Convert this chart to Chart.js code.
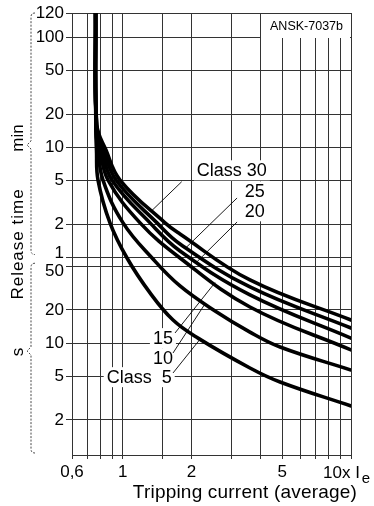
<!DOCTYPE html>
<html><head><meta charset="utf-8">
<script src="https://cdn.jsdelivr.net/npm/chart.js@4/dist/chart.umd.min.js"></script>
<style>html,body{margin:0;padding:0;background:#fff;}#wrap{width:374px;height:506px;}</style>
</head><body><div id="wrap"><canvas id="c" width="374" height="506"></canvas></div>
<script>
// ---- data: tripping current (x Ie) and release time (s) ----
const current5  = [0.761, 0.763, 0.768, 0.780, 0.880, 1.045, 1.318, 1.662, 2.138, 3.61, 4.89, 10];
const time5     = [10050, 867, 570, 304, 124, 59.4, 28.6, 16.2, 11.1, 5.94, 4.43, 2.68];
const current10 = [0.761, 0.764, 0.780, 0.820, 1.004, 1.358, 1.783, 2.539, 3.61, 4.89, 10];
const time10    = [10050, 905, 570, 304, 124, 58.2, 33.1, 19.6, 12.6, 9.22, 5.69];
const current15 = [0.761, 0.766, 0.796, 0.863, 1.192, 1.783, 3.61, 10];
const time15    = [10050, 943, 570, 304, 124, 59.4, 21.3, 8.66];
const current20 = [0.761, 0.767, 0.812, 0.898, 1.318, 1.783, 3.61, 10];
const time20    = [10050, 963, 570, 304, 124, 68.8, 27.4, 11.1];
const current25 = [0.761, 0.769, 0.828, 0.935, 1.414, 1.783, 3.61, 10];
const time25    = [10050, 963, 570, 304, 124, 79.7, 32.4, 13.7];
const current30 = [0.761, 0.771, 0.845, 0.974, 1.533, 1.783, 3.61, 10];
const time30    = [10050, 963, 570, 304, 124, 98.2, 37.5, 16.2];
const classNames = ['Class 5', 'Class 10', 'Class 15', 'Class 20', 'Class 25', 'Class 30'];

const xTickValues = [0.6, 0.7, 0.8, 0.9, 1, 1.5, 2, 3, 4, 5, 6, 7, 8, 9, 10];
const xTickLabels = ['0,6', '', '', '', '1', '', '2', '', '', '5', '', '', '', '', ''];
const yTickValues = [10050, 6000, 3000, 1200, 600, 300, 120, 60, 50, 20, 10, 5, 2];
const yTickLabels = ['120', '100', '50', '20', '10', '5', '2', '1', '50', '20', '10', '5', '2'];

const F = "'Liberation Sans', Arial, Helvetica, sans-serif";
Chart.defaults.font.family = F;
Chart.defaults.color = '#000';

const curX = [current5, current10, current15, current20, current25, current30];
const curT = [time5, time10, time15, time20, time25, time30];
const datasets = curX.map((xs, k) => ({
  label: classNames[k],
  data: xs.map((x, i) => ({x: x, y: curT[k][i]})),
  borderColor: '#000', borderWidth: 3.6, pointRadius: 0, fill: false,
  tension: 0.4, borderJoinStyle: 'round', borderCapStyle: 'round'
}));

function onCurve(k, I) {
  const xs = curX[k], ts = curT[k];
  for (let i = 1; i < xs.length; i++) {
    if (I <= xs[i]) {
      const a = Math.log(xs[i-1]), b = Math.log(xs[i]);
      const f = (Math.log(I) - a) / (b - a);
      return Math.exp(Math.log(ts[i-1]) + f * (Math.log(ts[i]) - Math.log(ts[i-1])));
    }
  }
  return ts[ts.length - 1];
}

const annot = {
  id: 'annot',
  beforeDatasetsDraw(chart) {
    const {ctx, chartArea: ca, scales: {x, y}} = chart;
    const px = v => x.getPixelForValue(v), py = v => y.getPixelForValue(v);
    ctx.save();
    ctx.fillStyle = '#fff';
    const bx = Math.round(px(4)), by = Math.round(py(6000));
    ctx.fillRect(bx + 1, ca.top + 1, ca.right - bx - 2, by - ca.top - 1);
    ctx.fillStyle = '#000';
    ctx.font = '12.5px ' + F;
    ctx.textAlign = 'center'; ctx.textBaseline = 'middle';
    ctx.fillText('ANSK-7037b', (bx + ca.right) / 2 + 1, (ca.top + by) / 2 + 1);

    // [text, series, labelI, labelT, leaderStartI, leaderStartT, leaderEndI]
    const labs = [
      ['Class 30', 5, 4.28, 373, 1.814, 293.7, 1.344],
      ['25', 4, 4.19, 240, 3.17, 208.8, 1.894],
      ['20', 3, 4.19, 158, 3.17, 126.3, 2.117],
      ['15', 2, 1.66, 11.1, 1.696, 12.36, 2.539],
      ['10', 1, 1.66, 7.3, 1.662, 8.13, 2.295],
      ['Class  5', 0, 1.64, 4.9, 1.662, 5.35, 2.182]
    ];
    ctx.font = '18px ' + F;
    ctx.textBaseline = 'middle';
    labs.forEach(l => {
      const w = ctx.measureText(l[0]).width;
      ctx.fillStyle = '#fff';
      ctx.fillRect(px(l[2]) - w - 3, py(l[3]) - 10, w + 6, 20);
    });
    ctx.strokeStyle = '#000'; ctx.lineWidth = 0.9;
    labs.forEach(l => {
      ctx.beginPath();
      ctx.moveTo(px(l[4]), py(l[5]));
      ctx.lineTo(px(l[6]), py(onCurve(l[1], l[6])));
      ctx.stroke();
    });
    ctx.fillStyle = '#000';
    ctx.textAlign = 'right';
    labs.forEach(l => { ctx.fillText(l[0], px(l[2]), py(l[3]) + 1); });
    ctx.restore();
  },
  afterDraw(chart) {
    const {ctx, chartArea: ca, scales: {x, y}} = chart;
    ctx.save();
    ctx.fillStyle = '#000';
    const p10 = x.getPixelForValue(10);
    ctx.font = '17px ' + F;
    ctx.textAlign = 'left'; ctx.textBaseline = 'middle';
    ctx.fillText('10x I', p10 - 28, 473);
    const w = ctx.measureText('10x I').width;
    ctx.font = '15px ' + F;
    ctx.fillText('e', p10 - 28 + w + 2, 479);
    ctx.font = '19px ' + F;
    ctx.letterSpacing = '0.2px';
    ctx.textAlign = 'right';
    ctx.fillText('Tripping current (average)', p10 + 6, 493);
    ctx.font = '17px ' + F;
    ctx.letterSpacing = '1px';
    ctx.textAlign = 'center';
    const rot = (t, cx, cy) => { ctx.save(); ctx.translate(cx, cy); ctx.rotate(-Math.PI / 2); ctx.fillText(t, 0, 0); ctx.restore(); };
    rot('Release time', 18, 244);
    ctx.letterSpacing = '0px';
    rot('min', 18, 138);
    rot('s', 18, 352);
    ctx.strokeStyle = '#333'; ctx.lineWidth = 0.9; ctx.setLineDash([2, 1.5]);
    const br = (a, b, n) => {
      ctx.beginPath();
      ctx.moveTo(35, a); ctx.quadraticCurveTo(31, a, 31, a + 4);
      ctx.lineTo(31, n - 4); ctx.lineTo(27, n); ctx.lineTo(31, n + 4);
      ctx.lineTo(31, b - 4); ctx.quadraticCurveTo(31, b, 35, b);
      ctx.stroke();
    };
    br(ca.top, y.getPixelForValue(60) - 3, 145);
    br(y.getPixelForValue(50) - 3, ca.bottom - 2, 351);
    ctx.restore();
  }
};

new Chart(document.getElementById('c'), {
  type: 'line',
  data: {datasets: datasets},
  options: {
    responsive: false, animation: false,
    layout: {padding: {left: 0, right: 23, top: 13, bottom: 0}},
    plugins: {legend: {display: false}, tooltip: {enabled: false}},
    scales: {
      x: {
        type: 'logarithmic', min: 0.6, max: 10,
        afterBuildTicks: s => { s.ticks = xTickValues.map(v => ({value: v})); },
        afterFit: s => { s.height = 51; },
        ticks: {autoSkip: false, maxRotation: 0, minRotation: 0, padding: 3, color: '#000',
                font: {family: F, size: 17}, callback: (v, i) => xTickLabels[i]},
        grid: {color: '#333', lineWidth: 1, tickLength: 4},
        border: {color: '#333', width: 1}
      },
      y: {
        type: 'logarithmic', min: 0.96, max: 10050,
        afterBuildTicks: s => { s.ticks = yTickValues.map(v => ({value: v})); },
        afterFit: s => { s.width = 72; },
        ticks: {autoSkip: false, padding: 2, color: '#000',
                font: {family: F, size: 17, lineHeight: 0.55},
                callback: (v, i) => i === 7 ? ['1', ''] : (i === 8 ? ['', '50'] : yTickLabels[i])},
        grid: {color: '#333', lineWidth: 1, tickLength: 6},
        border: {color: '#333', width: 1}
      }
    }
  },
  plugins: [annot]
});
</script></body></html>
